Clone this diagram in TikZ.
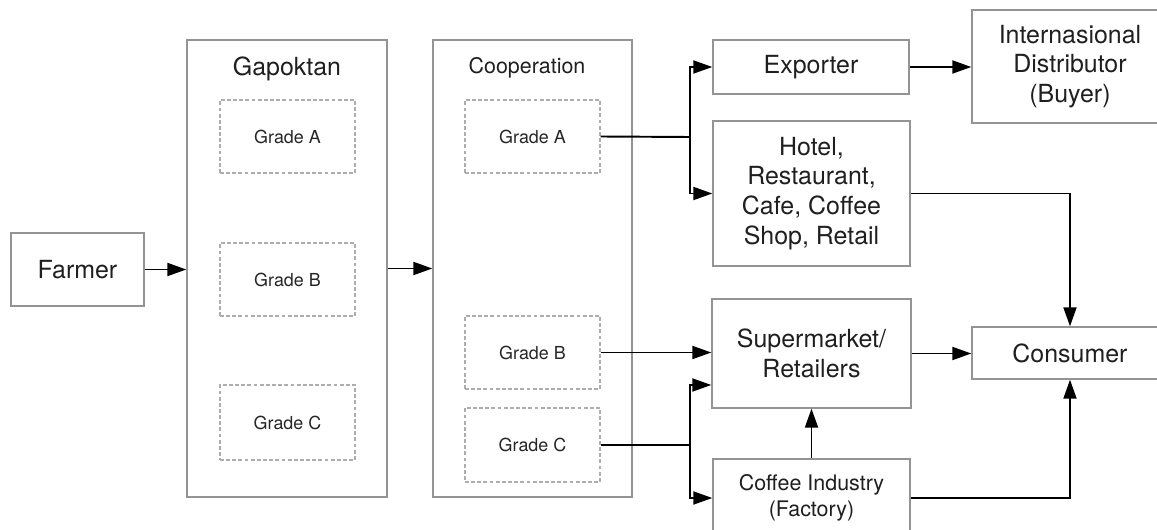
\documentclass[tikz,border=0pt]{standalone}
\usepackage{fontspec}
\setmainfont{TeX Gyre Heros}
\usepackage{tikz}
\usetikzlibrary{arrows.meta,positioning,calc}

\begin{document}
\begin{tikzpicture}[x=0.02cm, y=-0.02cm, >={Triangle[length=3.8mm, width=2.6mm]},
  box/.style={draw=black!42, line width=0.8pt, fill=white, align=center, inner sep=2pt, text=black!88, font=\fontsize{14.2}{17}\selectfont},
  small/.style={font=\fontsize{12.2}{14.5}\selectfont},
  grade/.style={draw=black!32, dash pattern=on 2.2pt off 1.3pt, line width=0.7pt, minimum width=2.7cm, minimum height=1.46cm, text=black!85, font=\fontsize{10.2}{12}\selectfont},
  title/.style={text=black!88, inner sep=0pt},
  line/.style={line width=1.1pt},
  arr/.style={line, ->}]

  \useasboundingbox (0,0) rectangle (1157,530);

  % Define coordinates for nodes
\node[box, minimum width=2.66cm, minimum height=1.46cm] (farmer) at (77.5,269.5) {Farmer};
\node[box, minimum width=4cm, minimum height=9.14cm] (gapoktan) at (287,268.5) {}; \node[title, font=\fontsize{14.2}{17}\selectfont] (gaptitle) at (287,69) {Gapoktan};
\node[grade] (gapA) at (287.5,136.5) {Grade A}; \node[grade] (gapB) at (287.5,279.5) {Grade B}; \node[grade, minimum height=1.5cm] (gapC) at (287.5,422.5) {Grade C};
\node[box, minimum width=3.98cm, minimum height=9.14cm] (coop) at (532.5,268.5) {}; \node[title, small] (cooptitle) at (527,68) {Cooperation};
\node[grade] (coopA) at (532.5,136.5) {Grade A}; \node[grade] (coopB) at (532.5,352.5) {Grade B}; \node[grade, minimum height=1.48cm] (coopC) at (532.5,445) {Grade C};
\node[box, minimum width=3.92cm, minimum height=1.08cm] (exporter) at (811,67) {Exporter};
\node[box, minimum width=3.92cm, minimum height=2.26cm] (intl) at (1070,66.5) {Internasional\\Distributor\\(Buyer)};
\node[box, minimum width=3.94cm, minimum height=2.9cm] (horeca) at (811.5,193.5) {Hotel,\\Restaurant,\\Cafe, Coffee\\Shop, Retail};
\node[box, minimum width=3.98cm, minimum height=2.18cm] (market) at (811.5,353.5) {Supermarket/\\Retailers};
\node[box, minimum width=3.92cm, minimum height=1.04cm] (consumer) at (1070,353) {Consumer};
\node[box, small, minimum width=3.94cm, minimum height=1.56cm] (industry) at (811.5,498) {Coffee Industry\\(Factory)};
\coordinate (splitA) at (690,137); \coordinate (splitC) at (690,445);

  % Draw arrows between nodes
\draw[arr] (farmer.east) -- (farmer.east -| gapoktan.west); \draw[arr] (gapoktan.east) -- (coop.west);
\draw[line] (coopA.east) -- (splitA); \draw[arr] (splitA) |- (exporter.west); \draw[arr] (splitA) |- (horeca.west);
\draw[arr] (exporter.east) -- (exporter.east -| intl.west); \draw[arr] (horeca.east) -| (consumer.north);
\draw[arr] (coopB.east) -- (coopB.east -| market.west);
\draw[line] (coopC.east) -- (splitC); \draw[arr] (splitC) |- ([yshift=-0.63cm]market.west); \draw[arr] (splitC) |- (industry.west);
\draw[arr] (industry.north -| market.south) -- (market.south); \draw[arr] (market.east) -- (market.east -| consumer.west);
\draw[arr] (industry.east) -| (consumer.south);

\end{tikzpicture}
\end{document}
